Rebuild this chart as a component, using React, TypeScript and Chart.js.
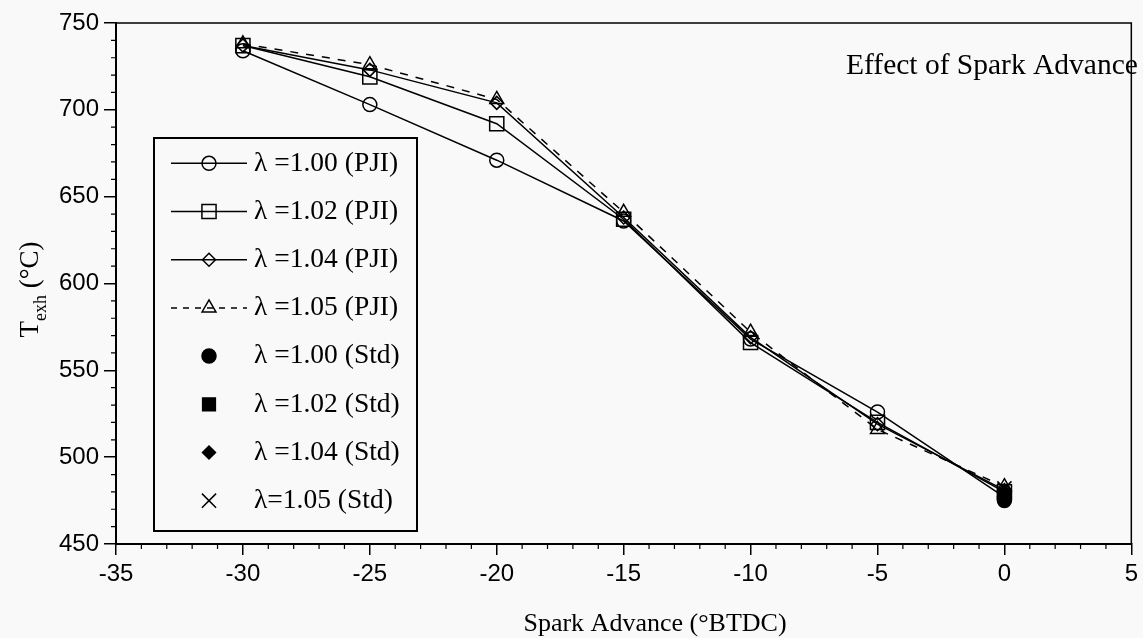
import React, { useEffect, useRef } from 'react';
import { Chart, registerables } from 'chart.js';
import { drawPoint } from 'chart.js/helpers';

Chart.register(...registerables);

// ---- data ----
const sparkAdvance = [-30, -25, -20, -15, -10, -5, 0];
const pji100 = [734, 703, 671, 636, 568, 526, 477];
const pji102 = [737, 719, 692, 637, 566, 520, 480];
const pji104 = [737, 723, 704, 638, 569, 519, 481];
const pji105 = [738, 726, 706, 641, 572, 516, 483];
const stdAdvance = [0];
const std100 = [475];
const std102 = [478];
const std104 = [480];
const std105 = [482];
const seriesLabels = [
  'λ =1.00 (PJI)',
  'λ =1.02 (PJI)',
  'λ =1.04 (PJI)',
  'λ =1.05 (PJI)',
  'λ =1.00 (Std)',
  'λ =1.02 (Std)',
  'λ =1.04 (Std)',
  'λ=1.05 (Std)',
];
const xRange = [-35, 5];
const xStep = 5;
const xMinorStep = 1;
const yRange = [450, 750];
const yStep = 50;
const yMinorStep = 10;
const xTitle = 'Spark Advance (°BTDC)';
const yTitleMain = 'T';
const yTitleSub = 'exh';
const yTitleUnit = '(°C)';
const annotation = 'Effect of Spark Advance';

const toPts = (xs: number[], ys: number[]) => xs.map((x, i) => ({ x, y: ys[i] }));

const SERIF = "'Liberation Serif', 'DejaVu Serif', serif";
const SANS = "'Liberation Sans', Arial, sans-serif";

const decorPlugin = {
  id: 'decor',
  afterDraw(chart: any) {
    const ctx = chart.ctx as CanvasRenderingContext2D;
    const { left, right, top, bottom } = chart.chartArea;
    const xs = chart.scales.x;
    const ys = chart.scales.y;
    ctx.save();
    ctx.strokeStyle = '#000';
    ctx.fillStyle = '#000';
    // frame
    ctx.lineWidth = 1.5;
    ctx.beginPath();
    ctx.moveTo(left, top);
    ctx.lineTo(right, top);
    ctx.lineTo(right, bottom);
    ctx.stroke();
    // minor ticks
    ctx.lineWidth = 1.2;
    ctx.beginPath();
    for (let v = xRange[0]; v <= xRange[1]; v += xMinorStep) {
      if (v % xStep === 0) continue;
      const px = xs.getPixelForValue(v);
      ctx.moveTo(px, bottom);
      ctx.lineTo(px, bottom + 5);
    }
    for (let v = yRange[0]; v <= yRange[1]; v += yMinorStep) {
      if (v % yStep === 0) continue;
      const py = ys.getPixelForValue(v);
      ctx.moveTo(left, py);
      ctx.lineTo(left - 5, py);
    }
    ctx.stroke();

    // y title with subscript
    ctx.save();
    const mainFont = `27px ${SERIF}`;
    const subFont = `18px ${SERIF}`;
    ctx.font = mainFont;
    const wT = ctx.measureText(yTitleMain).width;
    const wSp = ctx.measureText(' ').width;
    const wU = ctx.measureText(yTitleUnit).width;
    ctx.font = subFont;
    const wS = ctx.measureText(yTitleSub).width;
    const total = wT + wS + wSp + wU;
    const cy = (top + bottom) / 2 + 6;
    ctx.translate(38, cy);
    ctx.rotate(-Math.PI / 2);
    ctx.textBaseline = 'alphabetic';
    ctx.textAlign = 'left';
    let x0 = -total / 2;
    ctx.font = mainFont;
    ctx.fillText(yTitleMain, x0, 0);
    x0 += wT;
    ctx.font = subFont;
    ctx.fillText(yTitleSub, x0, 8);
    x0 += wS + wSp;
    ctx.font = mainFont;
    ctx.fillText(yTitleUnit, x0, 0);
    ctx.restore();

    // x title
    ctx.font = `26px ${SERIF}`;
    ctx.textAlign = 'center';
    ctx.textBaseline = 'middle';
    ctx.fillText(xTitle, 655, 624);

    // annotation
    ctx.font = `29.5px ${SERIF}`;
    ctx.textAlign = 'left';
    ctx.textBaseline = 'alphabetic';
    ctx.fillText(annotation, 846, 74);

    // legend box
    const bx = 154, by = 138, bw = 263, bh = 393;
    ctx.fillStyle = '#f9f9f9';
    ctx.fillRect(bx, by, bw, bh);
    ctx.fillStyle = '#000';
    ctx.lineWidth = 2;
    ctx.strokeRect(bx, by, bw, bh);
    const rowY0 = 163.3;
    const rowGap = 48.2;
    chart.data.datasets.forEach((ds: any, i: number) => {
      const y = rowY0 + i * rowGap;
      const mx = 209;
      if (ds.showLine) {
        ctx.save();
        ctx.lineWidth = ds.borderWidth;
        ctx.setLineDash(ds.borderDash && ds.borderDash.length ? [6, 6] : []);
        ctx.beginPath();
        ctx.moveTo(171, y);
        ctx.lineTo(247, y);
        ctx.stroke();
        ctx.restore();
      }
      ctx.save();
      ctx.fillStyle = ds.pointBackgroundColor;
      ctx.strokeStyle = ds.pointBorderColor;
      ctx.lineWidth = ds.pointBorderWidth;
      ctx.setLineDash([]);
      drawPoint(ctx, { pointStyle: ds.pointStyle, radius: ds.pointRadius, rotation: 0, borderWidth: ds.pointBorderWidth }, mx, y);
      ctx.restore();
      ctx.font = `27.5px ${SERIF}`;
      ctx.textAlign = 'left';
      ctx.textBaseline = 'middle';
      ctx.fillText(seriesLabels[i], 254, y);
    });
    ctx.restore();
  },
};

export default function App() {
  const ref = useRef<HTMLCanvasElement>(null);
  useEffect(() => {
    if (!ref.current) return;
    const open = 'rgba(0,0,0,0)';
    const lineDs = (ys: number[], style: string, r: number, dash: number[]) => ({
      data: toPts(sparkAdvance, ys),
      showLine: true,
      borderColor: '#000',
      borderWidth: 1.5,
      borderDash: dash,
      pointStyle: style,
      pointRadius: r,
      pointBorderWidth: 1.5,
      pointBorderColor: '#000',
      pointBackgroundColor: open,
      fill: false,
      tension: 0,
    });
    const stdDs = (ys: number[], style: string, r: number) => ({
      data: toPts(stdAdvance, ys),
      showLine: false,
      borderColor: '#000',
      borderWidth: 1.5,
      pointStyle: style,
      pointRadius: r,
      pointBorderWidth: 1.5,
      pointBorderColor: '#000',
      pointBackgroundColor: '#000',
    });
    const chart = new Chart(ref.current, {
      type: 'scatter',
      data: {
        datasets: [
          { label: seriesLabels[0], ...lineDs(pji100, 'circle', 7, []) },
          { label: seriesLabels[1], ...lineDs(pji102, 'rect', 10, []) },
          { label: seriesLabels[2], ...lineDs(pji104, 'rectRot', 6.5, []) },
          { label: seriesLabels[3], ...lineDs(pji105, 'triangle', 8, [8, 8]) },
          { label: seriesLabels[4], ...stdDs(std100, 'circle', 7) },
          { label: seriesLabels[5], ...stdDs(std102, 'rect', 9) },
          { label: seriesLabels[6], ...stdDs(std104, 'rectRot', 6.5) },
          { label: seriesLabels[7], ...stdDs(std105, 'crossRot', 10) },
        ] as any,
      },
      options: {
        animation: false,
        responsive: false,
        devicePixelRatio: 1,
        layout: { padding: { top: 23, right: 10, left: 0, bottom: 0 } },
        plugins: { legend: { display: false }, tooltip: { enabled: false } },
        scales: {
          x: {
            type: 'linear',
            min: xRange[0],
            max: xRange[1],
            ticks: { stepSize: xStep, color: '#000', font: { family: SANS, size: 24 }, padding: 5, maxRotation: 0 },
            grid: { drawOnChartArea: false, tickLength: 11, color: '#000', lineWidth: 1.5 },
            border: { display: true, color: '#000', width: 2 },
            afterFit: (s: any) => { s.height = 94; },
          },
          y: {
            type: 'linear',
            min: yRange[0],
            max: yRange[1],
            ticks: { stepSize: yStep, color: '#000', font: { family: SANS, size: 24 }, padding: 5 },
            grid: { drawOnChartArea: false, tickLength: 12, color: '#000', lineWidth: 1.5 },
            border: { display: true, color: '#000', width: 2 },
            afterFit: (s: any) => { s.width = 116; },
          },
        },
      },
      plugins: [decorPlugin],
    } as any);
    return () => chart.destroy();
  }, []);
  return (
    <div style={{ position: 'fixed', left: 0, top: 0, width: 1143, height: 638, background: '#f9f9f9' }}>
      <canvas ref={ref} width={1143} height={638} style={{ display: 'block' }} />
    </div>
  );
}
